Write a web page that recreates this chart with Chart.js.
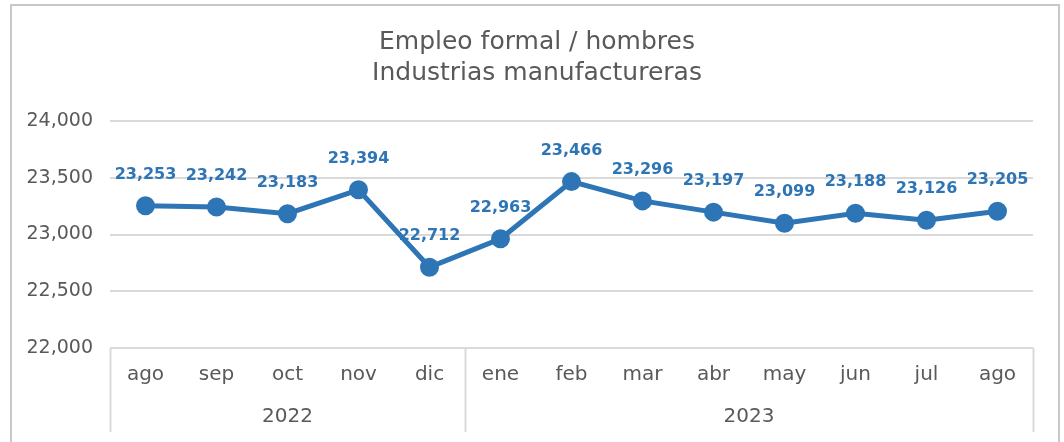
<!DOCTYPE html>
<html>
<head>
<meta charset="utf-8">
<script src="https://cdn.jsdelivr.net/npm/chart.js@4"></script>
<style>
  html, body { margin: 0; padding: 0; background: #fff; overflow: hidden; }
  #wrap { position: relative; width: 1064px; height: 442px; }
  #frame { position: absolute; left: 10px; top: 4px; width: 1050px; height: 470px; border: 2px solid #c8c8c8; box-sizing: border-box; }
  canvas { position: absolute; left: 0; top: 0; }
</style>
</head>
<body>
<div id="wrap">
  <div id="frame"></div>
  <canvas id="chart" width="1064" height="442"></canvas>
</div>
<script>
// Data
const months = ['ago', 'sep', 'oct', 'nov', 'dic', 'ene', 'feb', 'mar', 'abr', 'may', 'jun', 'jul', 'ago'];
const values = [23253, 23242, 23183, 23394, 22712, 22963, 23466, 23296, 23197, 23099, 23188, 23126, 23205];
const years = ['2022', '2023'];
const yearSpans = [5, 8];
const titleLines = ['Empleo formal / hombres', 'Industrias manufactureras'];

const FONT = "'DejaVu Sans', sans-serif";
const BLUE = '#2e75b6';
const GRAY_TXT = '#595959';
const GRID = '#d9d9d9';

const fmt = v => v.toLocaleString('en-US');

// title, value labels, two-level axis
const extras = {
    id: 'extras',
    afterDatasetsDraw(chart) {
        const ctx = chart.ctx;
        const x = chart.scales.x;
        const area = chart.chartArea;
        ctx.save();

        // title
        ctx.fillStyle = GRAY_TXT;
        ctx.font = `25px ${FONT}`;
        ctx.textAlign = 'center';
        ctx.textBaseline = 'middle';
        ctx.fillText(titleLines[0], 537, 42);
        ctx.fillText(titleLines[1], 537, 73);

        // value labels
        const meta = chart.getDatasetMeta(0);
        ctx.fillStyle = BLUE;
        ctx.font = `bold 16px ${FONT}`;
        meta.data.forEach((pt, i) => {
            ctx.fillText(fmt(values[i]), pt.x, pt.y - 31);
        });

        // category box lines
        ctx.strokeStyle = GRID;
        ctx.lineWidth = 2;
        const bottom = 432;
        let idx = 0;
        const edges = [x.left];
        yearSpans.forEach(n => {
            idx += n;
            if (idx < months.length) {
                edges.push((x.getPixelForValue(idx - 1) + x.getPixelForValue(idx)) / 2);
            }
        });
        edges.push(x.right);
        edges.forEach(ex => {
            ctx.beginPath();
            ctx.moveTo(Math.round(ex) + 0.5, area.bottom);
            ctx.lineTo(Math.round(ex) + 0.5, bottom);
            ctx.stroke();
        });

        // year labels
        ctx.fillStyle = GRAY_TXT;
        ctx.font = `20px ${FONT}`;
        years.forEach((yr, i) => {
            ctx.fillText(yr, (edges[i] + edges[i + 1]) / 2, 417);
        });
        ctx.restore();
    }
};

new Chart(document.getElementById('chart'), {
    type: 'line',
    data: {
        labels: months,
        datasets: [{
            data: values,
            borderColor: BLUE,
            backgroundColor: BLUE,
            borderWidth: 5,
            pointRadius: 7,
            pointHoverRadius: 7,
            pointBackgroundColor: BLUE,
            pointBorderColor: BLUE,
            tension: 0
        }]
    },
    options: {
        responsive: false,
        animation: false,
        layout: { padding: { left: 0, right: 31, top: 121, bottom: 0 } },
        plugins: {
            legend: { display: false },
            tooltip: { enabled: false },
            title: { display: false }
        },
        scales: {
            x: {
                offset: true,
                grid: { display: false, drawTicks: false },
                border: { display: false },
                ticks: {
                    color: GRAY_TXT,
                    font: { family: FONT, size: 20 },
                    padding: 15,
                    maxRotation: 0,
                    autoSkip: false
                },
                afterFit: s => { s.height = 94; }
            },
            y: {
                min: 22000,
                max: 24000,
                grid: { color: GRID, lineWidth: 2, drawTicks: false },
                border: { display: false },
                ticks: {
                    stepSize: 500,
                    color: GRAY_TXT,
                    font: { family: FONT, size: 19 },
                    padding: 17,
                    callback: v => fmt(v)
                },
                afterFit: s => { s.width = 110; }
            }
        }
    },
    plugins: [extras]
});
</script>
</body>
</html>
